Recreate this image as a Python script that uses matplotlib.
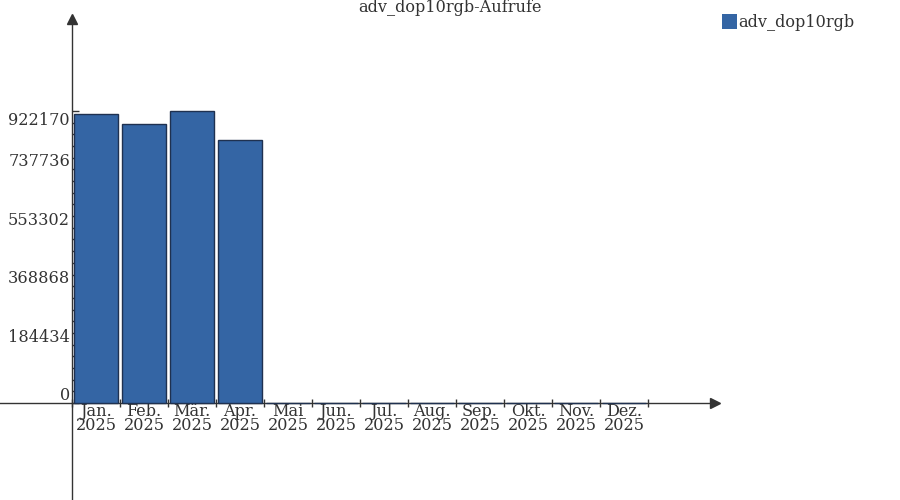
import matplotlib
matplotlib.use("Agg")
import matplotlib.pyplot as plt
from matplotlib.patches import Patch
import numpy as np

series_name = "adv_dop10rgb"
title = "adv_dop10rgb-Aufrufe"
months = ["Jan.", "Feb.", "Mär.", "Apr.", "Mai", "Jun.", "Jul.", "Aug.",
          "Sep.", "Okt.", "Nov.", "Dez."]
year = "2025"
values = [911700, 880100, 922170, 829600, 0, 0, 0, 0, 0, 0, 0, 0]
ytick_values = [0, 184434, 368868, 553302, 737736, 922170]

plt.rcParams['font.family'] = ['DejaVu Serif']
TEXT = '#333333'
AX = '#333333'
FILL = '#3465a4'
EDGE = '#1f3150'
FS = 11.6

fig = plt.figure(figsize=(9, 5), dpi=100)
ax = fig.add_axes([0, 0, 1, 1])
ax.patch.set_alpha(0)

# pixel mapping: slot width 48px starting at x=72; value 0 at y=403, max at y=111
px_per_val = 292.0 / 922170
ax.set_xlim(-72 / 48, (900 - 72) / 48)
ax.set_ylim(-97 / px_per_val, 403 / px_per_val)

x = np.arange(len(months)) + 0.5
ax.bar(x, values, width=0.9, color=FILL, edgecolor=EDGE, linewidth=1.0, zorder=3)

for s in ['top', 'right']:
    ax.spines[s].set_visible(False)
ax.spines['left'].set_position(('data', 0))
ax.spines['bottom'].set_position(('data', 0))
ax.spines['left'].set_color(AX)
ax.spines['bottom'].set_color(AX)
ax.spines['left'].set_linewidth(1.0)
ax.spines['bottom'].set_linewidth(1.0)
ax.spines['left'].set_bounds(-97 / px_per_val, (403 - 20) / px_per_val)
ax.spines['bottom'].set_bounds(-72 / 48, (712 - 72) / 48)

# arrow heads
ax.plot([0], [(403 - 19) / px_per_val], marker='^', markersize=7, color=AX, clip_on=False, zorder=4)
ax.plot([(715 - 72) / 48], [0], marker='>', markersize=7, color=AX, clip_on=False, zorder=4)

# x ticks
ax.set_xticks(np.arange(len(months) + 1))
ax.set_xticklabels([])
ax.tick_params(axis='x', which='major', direction='inout', length=6, color=AX, width=1)
ax.set_xticks(x, minor=True)
ax.set_xticklabels([f"{m}\n{year}" for m in months], minor=True)
ax.tick_params(axis='x', which='minor', length=0, pad=0, labelsize=FS, labelcolor=TEXT)
for lab in ax.get_xticklabels(minor=True):
    lab.set_linespacing(0.8)

# y ticks
ax.set_yticks(ytick_values)
ax.set_yticklabels([])
ax.tick_params(axis='y', which='major', direction='in', length=5, color=AX, width=1)
ax.set_yticks(np.arange(0, 922170 + 1, 922170 / 25), minor=True)
ax.tick_params(axis='y', which='minor', direction='in', length=3, color=AX, width=1)

for i, v in enumerate(ytick_values):
    off = -17 if i == len(ytick_values) - 1 else 0
    ax.annotate(str(v), xy=(0, v), xytext=(-2, 3 + off), textcoords='offset pixels',
                ha='right', va='baseline', fontsize=FS, color=TEXT)

fig.text(0.5, 1 - 8 / 500, title, ha='center', va='center', fontsize=FS, color=TEXT)

ax.legend(handles=[Patch(facecolor=FILL, edgecolor='none', label=series_name)],
          loc='upper left', bbox_to_anchor=(722 / 900, 1 - 14 / 500),
          bbox_transform=fig.transFigure, frameon=False, borderpad=0,
          borderaxespad=0, handlelength=0.95, handleheight=1.0,
          handletextpad=0.05, fontsize=FS, labelcolor=TEXT)

fig.savefig("out.png", dpi=100)
